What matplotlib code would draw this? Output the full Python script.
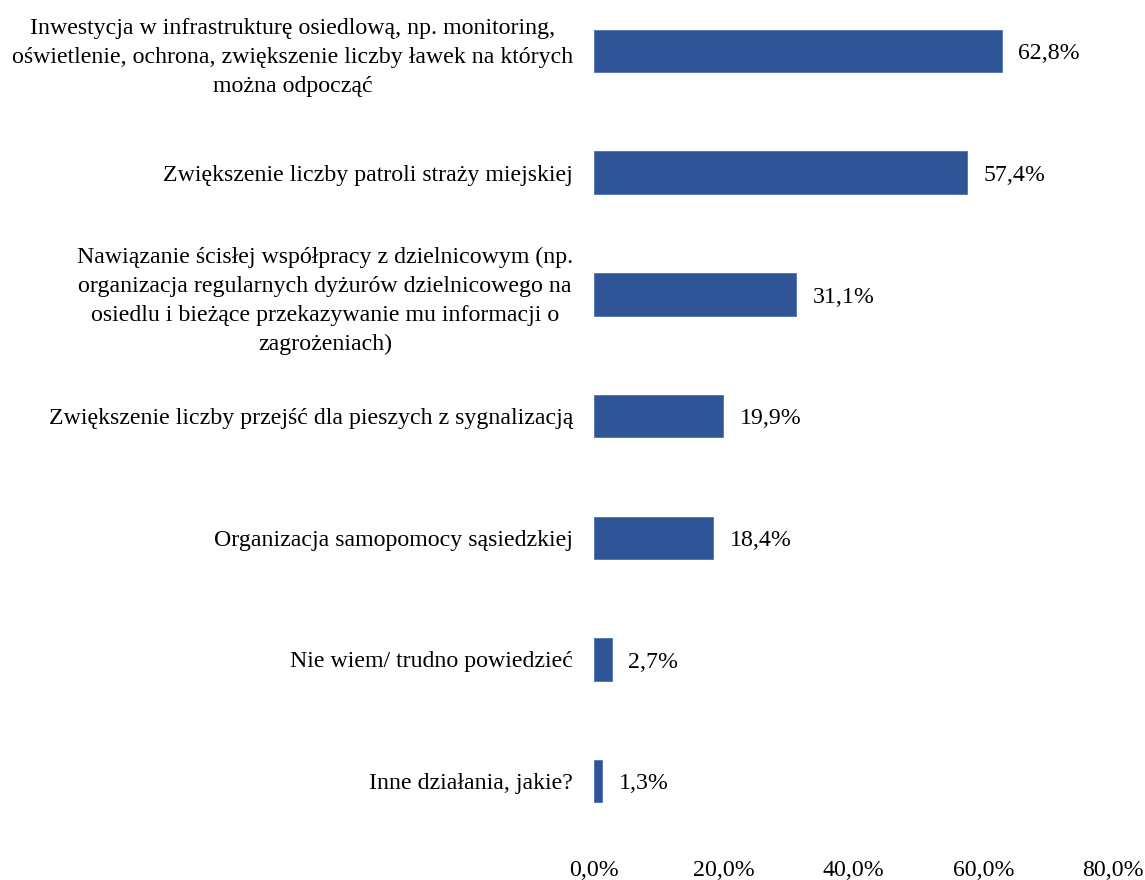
import matplotlib
matplotlib.use("Agg")
import matplotlib.pyplot as plt
from matplotlib.ticker import FuncFormatter

categories = [
    "Inwestycja w infrastrukturę osiedlową, np. monitoring,\noświetlenie, ochrona, zwiększenie liczby ławek na których\nmożna odpocząć",
    "Zwiększenie liczby patroli straży miejskiej",
    "Nawiązanie ścisłej współpracy z dzielnicowym (np.\norganizacja regularnych dyżurów dzielnicowego na\nosiedlu i bieżące przekazywanie mu informacji o\nzagrożeniach)",
    "Zwiększenie liczby przejść dla pieszych z sygnalizacją",
    "Organizacja samopomocy sąsiedzkiej",
    "Nie wiem/ trudno powiedzieć",
    "Inne działania, jakie?",
]
values = [62.8, 57.4, 31.1, 19.9, 18.4, 2.7, 1.3]
x_ticks = [0, 20, 40, 60, 80]

plt.rcParams['font.family'] = ['Liberation Serif', 'DejaVu Serif']
plt.rcParams['font.size'] = 17.2

fig = plt.figure(figsize=(11.45, 8.8), dpi=100)
ax = fig.add_axes([0.5188, 0.0432, 0.4535, 0.9568])

pos = list(range(len(values)))
ax.barh(pos, values, height=0.35, color="#2F5597", edgecolor="#4A72B8", linewidth=0.6)

for p, v in zip(pos, values):
    ax.annotate(f"{v:.1f}%".replace(".", ","), (v, p), xytext=(12, -2),
                textcoords="offset points", va="center", ha="left")

ax.set_yticks(pos)
ax.set_yticklabels(categories, multialignment="center", linespacing=1.5)
ax.set_ylim(6.5, -0.42)
ax.set_xlim(0, 80)
ax.set_xticks(x_ticks)
ax.xaxis.set_major_formatter(FuncFormatter(lambda x, _: f"{x:.1f}%".replace(".", ",")))

for s in ax.spines.values():
    s.set_visible(False)
ax.tick_params(axis="y", length=0, pad=15)
ax.tick_params(axis="x", length=0, pad=13)

fig.savefig("out.png", dpi=100)
